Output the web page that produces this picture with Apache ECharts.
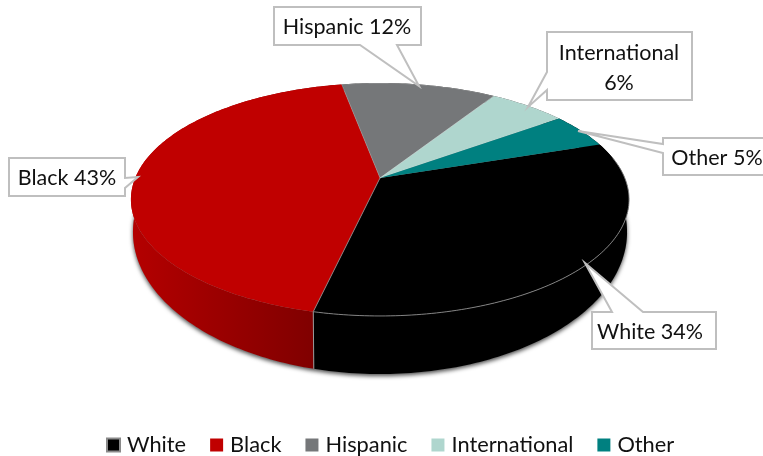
<!DOCTYPE html>
<html><head><meta charset="utf-8">
<style>html,body{margin:0;padding:0;background:#fff}#c{width:763px;height:456px}</style>
<script src="https://cdn.jsdelivr.net/npm/echarts@6/dist/echarts.min.js"></script>
</head><body><div id="c"></div>
<script>
const categories = ['White','Black','Hispanic','International','Other'];
const values = [33.7,43.45,12,6,4.85];
const colors = ['#000000','#C00000','#757779','#AFD6CE','#008080'];
const startAngle = 71.6;
const FONT = 'Lato';
const FS = 21.5;

// projected disc: perspective tilt of the circular pie
const P = 0.1845;
const topDisc = {cx:380, cy:178, rx:244.8, ry:112.5};
const botDisc = {cx:380, cy:205.8, rx:242.8, ry:137.2};
function proj(d, deg){
  const a = deg*Math.PI/180, u = Math.sin(a), v = -Math.cos(a), w = 1-P*v;
  return [d.cx+d.rx*u/w, d.cy+d.ry*v/w];
}
function arc(d, a0, a1){
  const pts=[], n=Math.max(2,Math.ceil(Math.abs(a1-a0)));
  for(let i=0;i<=n;i++) pts.push(proj(d,a0+(a1-a0)*i/n));
  return pts;
}
const total = values.reduce((a,b)=>a+b,0);
function sliceRange(idx, val){
  let s = startAngle;
  for(let i=0;i<idx;i++) s += values[i]/total*360;
  return [s, s+val/total*360];
}
function wallFill(idx){
  if(idx===1) return {type:'linear',global:true,x:131,y:0,x2:313,y2:0,
    colorStops:[{offset:0,color:'#B40000'},{offset:1,color:'#800000'}]};
  return '#000000';
}
function renderSlice(params, api){
  const idx = params.seriesIndex;
  const [a0,a1] = sliceRange(idx, api.value(0));
  const children = [];
  if(idx===0){
    children.push({type:'polygon',z2:0,shape:{points:arc(botDisc,0,360)},
      style:{fill:'#888',shadowBlur:4,shadowColor:'rgba(0,0,0,0.7)',shadowOffsetX:0,shadowOffsetY:2}});
  }
  const top = arc(topDisc,a0,a1);
  const bot = arc(botDisc,a0,a1);
  children.push({type:'polygon',z2:2,shape:{points:top.concat(bot.slice().reverse())},
    style:{fill:wallFill(idx),stroke:'none'}});
  children.push({type:'polygon',z2:5+idx,shape:{points:[[topDisc.cx,topDisc.cy]].concat(top)},
    style:{fill:colors[idx],stroke:(idx===2||idx===3)?'rgba(255,255,255,0.4)':'none',lineWidth:0.6,lineJoin:'round'}});
  if(idx===0){
    const e=proj(topDisc,a1), f=proj(botDisc,a1);
    children.push({type:'line',z2:3,shape:{x1:e[0],y1:e[1],x2:f[0],y2:f[1]},
      style:{stroke:'#9a9a9a',lineWidth:1}});
    const rim = arc(topDisc,a0+8,a1).concat([[topDisc.cx,topDisc.cy]]);
    children.push({type:'polyline',z2:20,shape:{points:rim},
      style:{stroke:'#8c8c8c',lineWidth:0.9,fill:'none',lineJoin:'round'}});
  }
  return {type:'group',children};
}

// label callouts: outline including the pointer, and the text anchor
const labelValues = ['34%','43%','12%','6%','5%'];
const callouts = [
 {i:0, pts:[[592,312],[612,312],[585,263],[643,312],[716,312],[716,349],[592,349]], tx:650,ty:332},
 {i:1, pts:[[9,158],[125,158],[125,178],[138,177],[125,188],[125,196],[9,196]], tx:67,ty:178},
 {i:2, pts:[[274,7],[421,7],[421,45],[397,45],[419,86],[360,45],[274,45]], tx:347,ty:27},
 {i:3, pts:[[547,32],[692,32],[692,100],[547,100],[547,90],[528,107],[547,72]], tx:619,ty:68, two:true},
 {i:4, pts:[[663,138],[764,138],[764,175],[663,175],[663,153],[578,131],[663,144]], tx:717,ty:158}
];
const graphicEls = [];
callouts.forEach(c=>{
  graphicEls.push({type:'polygon',z:50,shape:{points:c.pts},
    style:{fill:'#fff',stroke:'#BFBFBF',lineWidth:2}});
  const t = categories[c.i]+(c.two?'\n':' ')+labelValues[c.i];
  graphicEls.push({type:'text',z:51,x:c.tx,y:c.ty,
    style:{text:t,fill:'#111',font:FS+'px '+FONT,align:'center',verticalAlign:'middle',lineHeight:30}});
});

const chart = echarts.init(document.getElementById('c'),null,{renderer:'canvas'});
chart.setOption({
  animation:false,
  backgroundColor:'#fff',
  legend:{
    left:101, top:429, itemWidth:13, itemHeight:13, itemGap:24, icon:'rect',
    data:categories,
    textStyle:{fontFamily:FONT,fontSize:21.8,color:'#111',padding:[0,0,0,2]}
  },
  graphic:graphicEls,
  series:categories.map((name,i)=>({
    type:'custom',name,coordinateSystem:'none',
    itemStyle:{color:colors[i],borderColor:i===0?'#8a8a8a':'transparent',borderWidth:i===0?1.5:0},
    renderItem:renderSlice,
    data:[[values[i]]],
    silent:true
  }))
});
</script></body></html>
